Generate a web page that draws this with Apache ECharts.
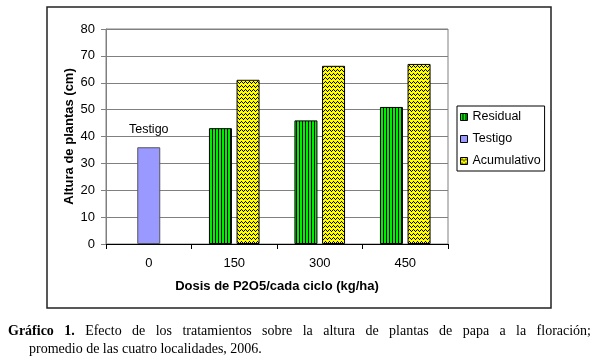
<!DOCTYPE html>
<html>
<head>
<meta charset="utf-8">
<script src="https://cdn.jsdelivr.net/npm/echarts@6/dist/echarts.min.js"></script>
<style>
html,body{margin:0;padding:0;background:#fff;}
#chart{width:600px;height:361px;}
</style>
</head>
<body>
<div id="chart"></div>
<script>
// ---- data ----
const categories = ['0', '150', '300', '450'];
const seriesNames = ['Residual', 'Testigo', 'Acumulativo'];
const testigo = [36, null, null, null];
const residual = [null, 43.1, 46, 51];
const acumulativo = [null, 61.1, 66.3, 67];
const yMin = 0, yMax = 80, yStep = 10;
const xTitle = 'Dosis de P2O5/cada ciclo (kg/ha)';
const yTitle = 'Altura de plantas (cm)';
const testigoLabel = 'Testigo';
const captionBold = ['Gráfico', '1.'];
const captionLine1 = 'Efecto de los tratamientos sobre la altura de plantas de papa a la floración;';
const captionLine2 = 'promedio de las cuatro localidades, 2006.';

// ---- patterns ----
function stripePattern() {
  const c = document.createElement('canvas');
  c.width = 3; c.height = 3;
  const g = c.getContext('2d');
  g.fillStyle = '#00ee00'; g.fillRect(0, 0, 3, 3);
  g.fillStyle = '#000'; g.fillRect(2, 0, 1, 3);
  return c;
}
function zigzagPattern() {
  const c = document.createElement('canvas');
  c.width = 4; c.height = 4;
  const g = c.getContext('2d');
  g.fillStyle = '#ffff00'; g.fillRect(0, 0, 4, 4);
  g.fillStyle = '#000';
  g.fillRect(0, 2, 1, 1); g.fillRect(1, 1, 1, 1); g.fillRect(2, 2, 1, 1); g.fillRect(3, 3, 1, 1);
  return c;
}
const residualFill = { image: stripePattern(), repeat: 'repeat' };
const acumFill = { image: zigzagPattern(), repeat: 'repeat' };

// ---- caption layout (justified first line) ----
const mctx = document.createElement('canvas').getContext('2d');
const serif = '"Liberation Serif", "Times New Roman", serif';
const capSize = 14;
function measure(t, bold) {
  mctx.font = (bold ? 'bold ' : '') + capSize + 'px ' + serif;
  return mctx.measureText(t).width;
}
const words1 = captionBold.map(w => ({ t: w, b: true })).concat(captionLine1.split(' ').map(w => ({ t: w, b: false })));
const lineLeft = 8, lineRight = 591;
let sumW = 0;
words1.forEach(w => { w.w = measure(w.t, w.b); sumW += w.w; });
const gap = (lineRight - lineLeft - sumW) / (words1.length - 1);
const captionEls = [];
let cx = lineLeft;
words1.forEach(w => {
  captionEls.push({ type: 'text', x: cx, y: 331, style: { text: w.t, font: (w.b ? 'bold ' : '') + capSize + 'px ' + serif, fill: '#000', align: 'left', verticalAlign: 'middle' } });
  cx += w.w + gap;
});
captionEls.push({ type: 'text', x: 29, y: 349, style: { text: captionLine2, font: capSize + 'px ' + serif, fill: '#000', align: 'left', verticalAlign: 'middle' } });

const sans = '"Liberation Sans", Arial, sans-serif';
const chart = echarts.init(document.getElementById('chart'), null, { renderer: 'canvas' });
chart.setOption({
  animation: false,
  backgroundColor: '#fff',
  textStyle: { fontFamily: sans },
  grid: { left: 106, top: 29, width: 342, height: 215, show: true, borderColor: '#808080', borderWidth: 1, containLabel: false },
  legend: {
    data: seriesNames,
    orient: 'vertical',
    left: 457, top: 106,
    padding: [3.5, 4, 2.5, 3],
    icon: 'rect',
    itemWidth: 7, itemHeight: 7, itemGap: 7,
    borderColor: '#000', borderWidth: 1,
    textStyle: { fontSize: 12.5, lineHeight: 15, color: '#000', fontFamily: sans, padding: [0, 0, 0, 0] },
    itemStyle: { borderColor: '#000', borderWidth: 1 }
  },
  xAxis: [
    {
      type: 'category', data: categories,
      axisLine: { lineStyle: { color: '#000', width: 1 } },
      axisTick: { show: true, length: 5, lineStyle: { color: '#000' } },
      axisLabel: { fontSize: 13, color: '#000', margin: 13 },
      name: xTitle, nameLocation: 'middle', nameGap: 36,
      nameTextStyle: { fontSize: 13, fontWeight: 'bold', color: '#000' },
      splitLine: { show: false }
    },
    { type: 'category', data: categories, show: false }
  ],
  yAxis: {
    type: 'value', min: yMin, max: yMax, interval: yStep,
    axisLine: { show: true, lineStyle: { color: '#808080' } },
    axisTick: { show: true, length: 5, lineStyle: { color: '#808080' } },
    axisLabel: { fontSize: 13, color: '#000', margin: 11 },
    splitLine: { lineStyle: { color: '#808080', width: 1 } },
    name: yTitle, nameLocation: 'middle', nameGap: 30, nameRotate: 90, nameMoveOverlap: false,
    nameTextStyle: { fontSize: 13, fontWeight: 'bold', color: '#000' }
  },
  graphic: [
    { type: 'rect', shape: { x: 47, y: 7, width: 504, height: 301 }, style: { fill: 'none', stroke: '#222', lineWidth: 1.5 }, silent: true }
  ].concat(captionEls),
  series: [
    {
      name: seriesNames[0], type: 'bar', xAxisIndex: 0, data: residual,
      barWidth: 23, barGap: '20%',
      itemStyle: { color: residualFill, borderColor: '#000', borderWidth: 1 }
    },
    {
      name: seriesNames[1], type: 'bar', xAxisIndex: 1, data: testigo,
      barWidth: 23,
      itemStyle: { color: '#9999ff', borderColor: '#555', borderWidth: 1 },
      label: { show: true, position: 'top', distance: 11, formatter: testigoLabel, fontSize: 12.5, color: '#000', fontFamily: sans }
    },
    {
      name: seriesNames[2], type: 'bar', xAxisIndex: 0, data: acumulativo,
      barWidth: 23, barGap: '20%',
      itemStyle: { color: acumFill, borderColor: '#000', borderWidth: 1 }
    }
  ]
});
</script>
</body>
</html>
